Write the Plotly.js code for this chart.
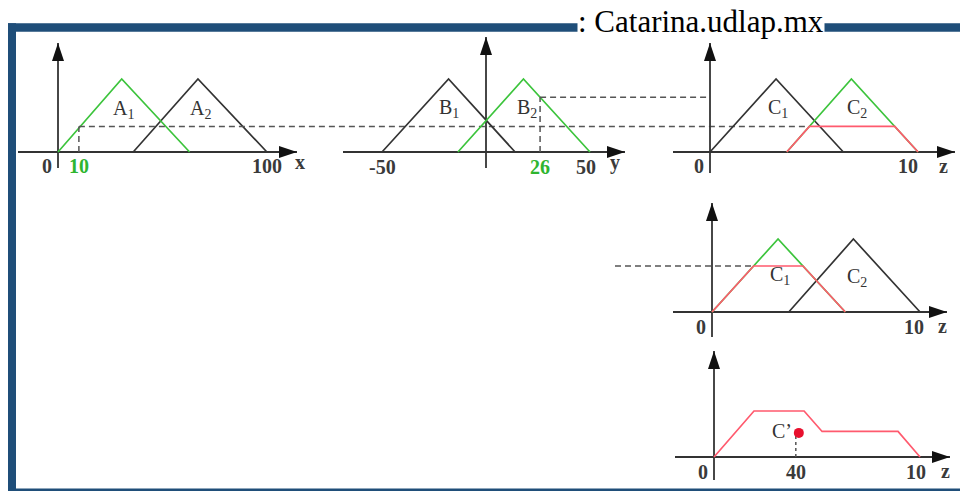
<!DOCTYPE html>
<html>
<head>
<meta charset="utf-8">
<script src="https://cdn.plot.ly/plotly-3.0.1.min.js"></script>
<style>
  html, body { margin: 0; padding: 0; background: #fff; }
  #chart { width: 960px; height: 491px; }
</style>
</head>
<body>
<div id="chart"></div>
<script>
// fuzzy sets (triangle vertices)
const A1 = [0, 30.5, 63], A2 = [36, 67, 100];
const B1 = [-50, -18, 14], B2 = [-13.5, 18, 50];
const C1 = [0, 3.27, 6.6], C2 = [3.8, 7.0, 10.3];
const TRI_MU = [0, 1, 0];

// crisp inputs and firing levels
const X_IN = 10, Y_IN = 26;
const MU_RULE1 = 0.35;   // A1(10) -> cut on C2
const MU_B2 = 0.75;      // B2(26)
const MU_RULE2 = 0.63;   // cut on C1

// aggregated output set and centroid
const OUT_Z = [0, 1.98, 4.46, 5.35, 9.11, 10.2];
const OUT_MU = [0, 0.63, 0.63, 0.35, 0.35, 0];
const Z_CENTROID = 4.05, MU_CENTROID = 0.33;

// tick labels
const TICKS_A = { vals: [0, 10, 100], text: ['0', '10', '100'], green: [false, true, false] };
const TICKS_B = { vals: [-50, 26, 50], text: ['-50', '26', '50'], green: [false, true, false] };
const TICKS_C = { vals: [0, 10], text: ['0', '10'], green: [false, false] };
const TICKS_S = { vals: [0, 4.05, 10], text: ['0', '40', '10'], green: [false, false, false] };

const W = 960, H = 491, KMU = 73;
const INK = '#333', GREEN = '#3cc43c', GREEN_TXT = '#2fb52f', RED = '#ff5a6e';
const SERIF = 'Liberation Serif';

// panel geometry: pixel of value 0, px per unit, baseline, axis extents
const geo = {
  A: { xa: 'x',  ya: 'y',  x0: 58,  k: 2.089, base: 152, h: [18, 297],  v: [168, 43] },
  B: { xa: 'x2', ya: 'y',  x0: 486, k: 2.08,  base: 152, h: [343, 625], v: [168, 37] },
  C: { xa: 'x3', ya: 'y',  x0: 710, k: 20.2,  base: 152, h: [673, 955], v: [173, 43] },
  M: { xa: 'x4', ya: 'y2', x0: 712, k: 20.2,  base: 312, h: [673, 947], v: [337, 203] },
  S: { xa: 'x5', ya: 'y3', x0: 714, k: 20.2,  base: 457, h: [675, 950], v: [480, 351] }
};
const toPx = (g, v) => g.x0 + v * g.k;
const fromPx = (g, p) => (p - g.x0) / g.k;
const muFromPx = (g, p) => (g.base - p) / KMU;

function cut(tri, mu) {
  return { x: [tri[0], tri[0] + mu * (tri[1] - tri[0]), tri[2] - mu * (tri[2] - tri[1]), tri[2]], y: [0, mu, mu, 0] };
}

const traces = [];
function line(g, x, y, color, extra) {
  traces.push(Object.assign({ type: 'scatter', mode: 'lines', x, y, xaxis: g.xa, yaxis: g.ya,
    line: { color, width: 1.7 }, hoverinfo: 'skip' }, extra || {}));
}
const dash = { line: { color: '#555', width: 1.5, dash: '6px,4px' } };

// --- panel A ---
line(geo.A, A2, TRI_MU, INK);
line(geo.A, A1, TRI_MU, GREEN);
// --- panel B ---
line(geo.B, B1, TRI_MU, INK);
line(geo.B, B2, TRI_MU, GREEN);
// --- panel C (rule 1) ---
const cut1 = cut(C2, MU_RULE1);
line(geo.C, C1, TRI_MU, INK);
line(geo.C, C2, TRI_MU, GREEN);
line(geo.C, cut1.x, cut1.y, RED);
// --- panel M (rule 2) ---
const cut2 = cut(C1, MU_RULE2);
line(geo.M, C2, TRI_MU, INK);
line(geo.M, C1, TRI_MU, GREEN);
line(geo.M, cut2.x, cut2.y, RED);
// --- panel S (aggregate) ---
line(geo.S, OUT_Z, OUT_MU, RED);

// dashed guides
line(geo.A, [X_IN, X_IN], [0, MU_RULE1], '#555', dash);
line(geo.A, [X_IN, fromPx(geo.A, toPx(geo.C, cut1.x[1]))], [MU_RULE1, MU_RULE1], '#555', dash);
line(geo.B, [Y_IN, Y_IN], [0, MU_B2], '#555', dash);
line(geo.B, [Y_IN, fromPx(geo.B, toPx(geo.C, 0))], [MU_B2, MU_B2], '#555', dash);
line(geo.M, [fromPx(geo.M, 615), cut2.x[1]], [MU_RULE2, MU_RULE2], '#555', dash);
line(geo.S, [Z_CENTROID, Z_CENTROID], [0, MU_CENTROID], '#555', { line: { color: '#555', width: 1.5, dash: 'dot' } });
traces.push({ type: 'scatter', mode: 'markers', x: [Z_CENTROID + 0.15], y: [MU_CENTROID], xaxis: 'x5', yaxis: 'y3',
  marker: { color: '#e8102e', size: 10 }, hoverinfo: 'skip' });

// axes with arrow heads
const shapes = [];
const annotations = [];
Object.values(geo).forEach(g => {
  const hx = g.h.map(p => fromPx(g, p)), vy = g.v.map(p => muFromPx(g, p));
  shapes.push({ type: 'line', xref: g.xa, yref: g.ya, x0: hx[0], x1: hx[1], y0: 0, y1: 0, line: { color: INK, width: 1.8 }, layer: 'below' });
  shapes.push({ type: 'line', xref: g.xa, yref: g.ya, x0: 0, x1: 0, y0: vy[0], y1: vy[1], line: { color: INK, width: 1.8 }, layer: 'below' });
  shapes.push({ type: 'path', xref: g.xa, yref: g.ya, xsizemode: 'pixel', ysizemode: 'pixel',
    xanchor: hx[1], yanchor: 0, path: 'M0,0 L-18,-6 L-18,6 Z', fillcolor: '#111', line: { width: 0 } });
  shapes.push({ type: 'path', xref: g.xa, yref: g.ya, xsizemode: 'pixel', ysizemode: 'pixel',
    xanchor: 0, yanchor: vy[1], path: 'M0,0 L-6,-18 L6,-18 Z', fillcolor: '#111', line: { width: 0 } });
});

function text(g, x, mu, t, size, color, extra) {
  annotations.push(Object.assign({ xref: g.xa, yref: g.ya, x, y: mu, text: t, showarrow: false,
    xanchor: 'center', yanchor: 'middle', font: { family: SERIF, size, color } }, extra || {}));
}
function ticks(g, tk, yshift) {
  tk.vals.forEach((v, i) => {
    const zeroShift = (tk.text[i] === '0') ? -11 : 0;
    const endShift = (v === 50 || v === 10) && !tk.green[i] && g !== geo.A && g !== geo.M && g !== geo.S ? -4 : 0;
    const label = tk.green[i] ? tk.text[i] : tk.text[i];
    text(g, v, 0, '<b>' + label + '</b>', 20, tk.green[i] ? GREEN_TXT : '#3a3a3a', { yshift, xshift: zeroShift + endShift });
  });
}
ticks(geo.A, TICKS_A, -14);
ticks(geo.B, TICKS_B, -15);
ticks(geo.C, TICKS_C, -14);
ticks(geo.M, TICKS_C, -15);
ticks(geo.S, TICKS_S, -15);

// axis names
[[geo.A, 'x', 300, 162], [geo.B, 'y', 615, 162], [geo.C, 'z', 943, 166], [geo.M, 'z', 942, 326], [geo.S, 'z', 945, 471]]
  .forEach(([g, t, px, py]) => text(g, fromPx(g, px), muFromPx(g, py), '<b>' + t + '</b>', 20, '#3a3a3a'));

// set names
text(geo.A, A1[1] + 1, 0.58, 'A<sub>1</sub>', 20, INK);
text(geo.A, A2[1] + 1, 0.58, 'A<sub>2</sub>', 20, INK);
text(geo.B, B1[1], 0.6, 'B<sub>1</sub>', 20, INK);
text(geo.B, B2[1] + 1.5, 0.6, 'B<sub>2</sub>', 20, INK);
text(geo.C, C1[1] + 0.1, 0.6, 'C<sub>1</sub>', 20, INK);
text(geo.C, C2[1] + 0.3, 0.6, 'C<sub>2</sub>', 20, INK);
text(geo.M, C1[1] + 0.1, 0.5, 'C<sub>1</sub>', 20, INK);
text(geo.M, C2[1] + 0.2, 0.47, 'C<sub>2</sub>', 20, INK);
text(geo.S, Z_CENTROID, MU_CENTROID, 'C’', 20, INK, { xanchor: 'right', xshift: -2, yshift: 2 });

// frame and source note
const BLUE = '#1f4e79';
const py = p => 1 - p / H, px = p => p / W;
shapes.push({ type: 'rect', xref: 'paper', yref: 'paper', x0: px(8), x1: 1, y0: py(31.7), y1: py(23.3), fillcolor: BLUE, line: { width: 0 }, layer: 'below' });
shapes.push({ type: 'rect', xref: 'paper', yref: 'paper', x0: px(8), x1: px(16), y0: 0, y1: py(23.3), fillcolor: BLUE, line: { width: 0 }, layer: 'below' });
shapes.push({ type: 'rect', xref: 'paper', yref: 'paper', x0: px(8), x1: 1, y0: 0, y1: py(488.6), fillcolor: BLUE, line: { width: 0 }, layer: 'below' });
annotations.push({ xref: 'paper', yref: 'paper', x: px(701), y: py(21), xanchor: 'center', yanchor: 'middle',
  text: ': Catarina.udlap.mx', showarrow: false, bgcolor: '#fff', borderpad: 0,
  font: { family: SERIF, size: 31, color: '#000' } });

const hidden = r => ({ domain: [0, 1], range: r, visible: false, fixedrange: true });
const xr = g => [fromPx(g, 0), fromPx(g, W)];
const yr = g => [(g.base - H) / KMU, g.base / KMU];
const layout = {
  width: W, height: H, margin: { l: 0, r: 0, t: 0, b: 0 },
  paper_bgcolor: '#fff', plot_bgcolor: 'rgba(0,0,0,0)', showlegend: false,
  font: { family: SERIF },
  xaxis: Object.assign(hidden(xr(geo.A)), { anchor: 'y' }),
  xaxis2: Object.assign(hidden(xr(geo.B)), { anchor: 'y' }),
  xaxis3: Object.assign(hidden(xr(geo.C)), { anchor: 'y' }),
  xaxis4: Object.assign(hidden(xr(geo.M)), { anchor: 'y2' }),
  xaxis5: Object.assign(hidden(xr(geo.S)), { anchor: 'y3' }),
  yaxis: Object.assign(hidden(yr(geo.A)), { anchor: 'x' }),
  yaxis2: Object.assign(hidden(yr(geo.M)), { anchor: 'x4' }),
  yaxis3: Object.assign(hidden(yr(geo.S)), { anchor: 'x5' }),
  shapes, annotations
};
Plotly.newPlot('chart', traces, layout, { displayModeBar: false, staticPlot: true });
</script>
</body>
</html>
